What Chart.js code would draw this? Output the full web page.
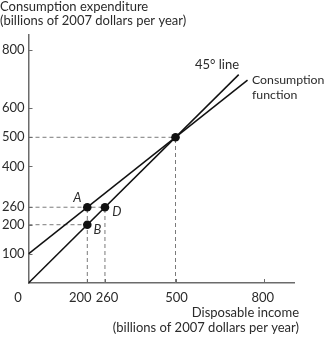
<!DOCTYPE html>
<html>
<head>
<meta charset="utf-8">
<script src="https://cdn.jsdelivr.net/npm/chart.js@4.4.1/dist/chart.umd.min.js"></script>
<style>
  html, body { margin: 0; padding: 0; background: #fff; }
  #wrap { width: 326px; height: 339px; position: relative; }
</style>
</head>
<body>
<div id="wrap"><canvas id="c" width="326" height="339"></canvas></div>
<script>
// Axis tick values (billions of 2007 dollars per year)
const incomeTicks = [200, 260, 500, 800];
const expenditureTicks = [100, 200, 260, 400, 500, 600, 800];
// horizontal nudges for the income labels so 200 and 260 do not collide
const incomeLabelShift = [-7, 2, 1, -1];

// 45° line: consumption equals disposable income
const line45X = [0, 715];
const line45Y = [0, 715];

// Consumption function
const consumptionX = [0, 745];
const consumptionY = [100, 696];

// Marked points
const pointNames = ['A', 'B', 'D', ''];
const pointX = [200, 200, 260, 500];
const pointY = [260, 200, 260, 500];

// Dashed guides: horizontal ones start at the y-axis, vertical ones at the x-axis
const guideHX = [260, 200, 500];
const guideHY = [260, 200, 500];
const guideVX = [200, 260, 500];
const guideVY = [260, 260, 500];

const FONT = 'Lato, "Open Sans", sans-serif';
const SIZE = 13;
const TEXT = '#2b2b2b';
const AXIS = '#6b6b6b';
const GUIDE = '#7a7a7a';

const toXY = (xs, ys) => xs.map((x, i) => ({ x: x, y: ys[i] }));

const datasets = [
  {
    label: 'points',
    data: toXY(pointX, pointY),
    showLine: false,
    pointRadius: 4.3,
    pointBackgroundColor: '#111',
    pointBorderColor: '#111',
    pointBorderWidth: 0
  },
  {
    label: '45° line',
    data: toXY(line45X, line45Y),
    showLine: true,
    borderColor: '#111',
    borderWidth: 1.5,
    pointRadius: 0
  },
  {
    label: 'Consumption function',
    data: toXY(consumptionX, consumptionY),
    showLine: true,
    borderColor: '#111',
    borderWidth: 1.5,
    pointRadius: 0
  }
];

guideHX.forEach((x, i) => {
  datasets.push({
    label: 'h' + i,
    data: [{ x: 0, y: guideHY[i] }, { x: x, y: guideHY[i] }],
    showLine: true, borderColor: GUIDE, borderWidth: 1, borderDash: [4, 3], pointRadius: 0
  });
});
guideVX.forEach((x, i) => {
  datasets.push({
    label: 'v' + i,
    data: [{ x: x, y: 0 }, { x: x, y: guideVY[i] }],
    showLine: true, borderColor: GUIDE, borderWidth: 1, borderDash: [4, 3], pointRadius: 0
  });
});

// Inside tick marks, income labels, point letters, line captions and axis titles
const annotations = {
  id: 'annotations',
  afterDraw(chart) {
    const { ctx, scales: { x, y } } = chart;
    const x0 = x.getPixelForValue(0);
    const y0 = y.getPixelForValue(0);
    ctx.save();

    ctx.strokeStyle = AXIS;
    ctx.lineWidth = 1;
    incomeTicks.forEach(v => {
      const px = Math.round(x.getPixelForValue(v)) + 0.5;
      ctx.beginPath(); ctx.moveTo(px, y0); ctx.lineTo(px, y0 - 4); ctx.stroke();
    });
    expenditureTicks.forEach(v => {
      const py = Math.round(y.getPixelForValue(v)) + 0.5;
      ctx.beginPath(); ctx.moveTo(x0, py); ctx.lineTo(x0 + 4, py); ctx.stroke();
    });

    ctx.fillStyle = TEXT;
    ctx.font = SIZE + 'px ' + FONT;
    ctx.textBaseline = 'middle';
    ctx.textAlign = 'center';
    incomeTicks.forEach((v, i) => {
      ctx.fillText(String(v), x.getPixelForValue(v) + incomeLabelShift[i], 298);
    });
    // origin label
    ctx.fillText('0', 18, 298);

    ctx.font = 'italic ' + SIZE + 'px ' + FONT;
    const offsets = [[-10, -9], [10, 5], [12, 5], [0, 0]];
    pointNames.forEach((n, i) => {
      if (!n) return;
      ctx.fillText(n, x.getPixelForValue(pointX[i]) + offsets[i][0], y.getPixelForValue(pointY[i]) + offsets[i][1]);
    });

    ctx.textAlign = 'left';
    ctx.font = SIZE + 'px ' + FONT;
    ctx.fillText('45° line', 195, 65);
    ctx.font = '12.3px ' + FONT;
    ctx.fillText('Consumption', 252, 80);
    ctx.fillText('function', 252, 95);

    ctx.font = SIZE + 'px ' + FONT;
    ctx.textBaseline = 'alphabetic';
    ctx.fillText('Consumption expenditure', 0, 11);
    ctx.fillText('(billions of 2007 dollars per year)', 0, 25);
    ctx.textAlign = 'right';
    ctx.fillText('Disposable income', 299, 317);
    ctx.fillText('(billions of 2007 dollars per year)', 299, 332);
    ctx.restore();
  }
};

new Chart(document.getElementById('c'), {
  type: 'scatter',
  data: { datasets: datasets },
  options: {
    responsive: false,
    animation: false,
    devicePixelRatio: 1,
    layout: { padding: { top: 35, right: 32, left: 0, bottom: 0 } },
    plugins: { legend: { display: false }, tooltip: { enabled: false } },
    scales: {
      x: {
        type: 'linear', min: 0, max: 903,
        grid: { display: false, drawTicks: false },
        border: { display: true, color: AXIS, width: 1.5 },
        afterBuildTicks: s => { s.ticks = incomeTicks.map(v => ({ value: v })); },
        afterFit: s => { s.height = 56; },
        ticks: { display: false }
      },
      y: {
        type: 'linear', min: 0, max: 851,
        grid: { display: false, drawTicks: false },
        border: { display: true, color: AXIS, width: 1.5 },
        afterBuildTicks: s => { s.ticks = expenditureTicks.map(v => ({ value: v })); },
        afterFit: s => { s.width = 28.5; },
        ticks: { color: TEXT, font: { family: FONT, size: SIZE }, padding: 4, autoSkip: false }
      }
    }
  },
  plugins: [annotations]
});
</script>
</body>
</html>
